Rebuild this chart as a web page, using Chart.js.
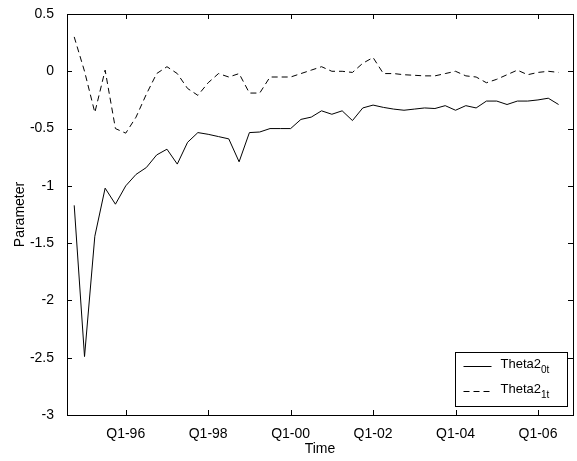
<!DOCTYPE html>
<html>
<head>
<meta charset="utf-8">
<script src="https://cdn.jsdelivr.net/npm/chart.js@4"></script>
<style>
  html, body { margin:0; padding:0; background:#fff; }
  #wrap { width:577px; height:461px; }
</style>
</head>
<body>
<div id="wrap"><canvas id="cv" width="577" height="461"></canvas></div>
<script>
/* Theta2 parameters over time (quarterly) */

const periods = [
  'Q4-94',
  'Q1-95','Q2-95','Q3-95','Q4-95','Q1-96','Q2-96','Q3-96','Q4-96',
  'Q1-97','Q2-97','Q3-97','Q4-97','Q1-98','Q2-98','Q3-98','Q4-98',
  'Q1-99','Q2-99','Q3-99','Q4-99','Q1-00','Q2-00','Q3-00','Q4-00',
  'Q1-01','Q2-01','Q3-01','Q4-01','Q1-02','Q2-02','Q3-02','Q4-02',
  'Q1-03','Q2-03','Q3-03','Q4-03','Q1-04','Q2-04','Q3-04','Q4-04',
  'Q1-05','Q2-05','Q3-05','Q4-05','Q1-06','Q2-06','Q3-06'
];

const theta2_0t = [
  -1.17, -2.49, -1.44, -1.02, -1.16, -1.00, -0.90, -0.84, -0.73, -0.68,
  -0.81, -0.62, -0.535, -0.55, -0.57, -0.59, -0.79, -0.535, -0.53, -0.50,
  -0.50, -0.50, -0.42, -0.40, -0.345, -0.375, -0.345, -0.43, -0.32, -0.295,
  -0.315, -0.33, -0.34, -0.33, -0.32, -0.325, -0.30, -0.34, -0.30, -0.32,
  -0.26, -0.26, -0.29, -0.26, -0.26, -0.25, -0.235, -0.29
];

const theta2_1t = [
  0.30, 0.00, -0.36, 0.01, -0.50, -0.54, -0.40, -0.20, -0.02, 0.04,
  -0.02, -0.15, -0.21, -0.10, -0.02, -0.05, -0.02, -0.19, -0.19, -0.05,
  -0.05, -0.05, -0.02, 0.01, 0.04, 0.00, 0.00, -0.01, 0.07, 0.12,
  -0.02, -0.02, -0.03, -0.035, -0.04, -0.04, -0.02, 0.00, -0.04, -0.05,
  -0.10, -0.07, -0.03, 0.01, -0.03, -0.01, 0.00, -0.01
];

const xTickLabels = ['Q1-96','Q1-98','Q1-00','Q1-02','Q1-04','Q1-06'];
const yTicks      = [0.5, 0, -0.5, -1, -1.5, -2, -2.5, -3];

const FONT = 'Liberation Sans, Arial, Helvetica, sans-serif';
const xTickPos = xTickLabels.map(l => periods.indexOf(l));
const toPts = arr => arr.map((v, i) => ({ x: i, y: v }));

// MATLAB-like box, inward ticks, and legend with subscripts
const matlabFrame = {
  id: 'matlabFrame',
  afterDraw(chart) {
    const { ctx, chartArea: a, scales } = chart;
    const T = 5;
    ctx.save();
    ctx.strokeStyle = '#000';
    ctx.lineWidth = 1;
    ctx.setLineDash([]);
    ctx.strokeRect(Math.round(a.left) + 0.5, Math.round(a.top) + 0.5,
                   Math.round(a.right - a.left), Math.round(a.bottom - a.top));
    ctx.beginPath();
    xTickPos.forEach(v => {
      const px = Math.round(scales.x.getPixelForValue(v)) + 0.5;
      ctx.moveTo(px, a.bottom); ctx.lineTo(px, a.bottom - T);
      ctx.moveTo(px, a.top);    ctx.lineTo(px, a.top + T);
    });
    yTicks.forEach(v => {
      const py = Math.round(scales.y.getPixelForValue(v)) + 0.5;
      ctx.moveTo(a.left, py);  ctx.lineTo(a.left + T, py);
      ctx.moveTo(a.right, py); ctx.lineTo(a.right - T, py);
    });
    ctx.stroke();

    // legend
    const L = { x: 455.5, y: 352.5, w: 112, h: 54 };
    ctx.fillStyle = '#fff';
    ctx.fillRect(L.x, L.y, L.w, L.h);
    ctx.strokeRect(L.x, L.y, L.w, L.h);
    const rows = [
      { sub: '0t', dash: [] },
      { sub: '1t', dash: [6, 4] }
    ];
    rows.forEach((r, i) => {
      const cy = L.y + 14 + i * 25;
      ctx.setLineDash(r.dash);
      ctx.beginPath();
      ctx.moveTo(L.x + 8, cy); ctx.lineTo(L.x + 36, cy);
      ctx.stroke();
      ctx.setLineDash([]);
      ctx.fillStyle = '#000';
      ctx.textBaseline = 'middle';
      ctx.textAlign = 'left';
      ctx.font = '13px ' + FONT;
      const tx = L.x + 45;
      ctx.fillText('Theta2', tx, cy - 2);
      const w = ctx.measureText('Theta2').width;
      ctx.font = '10px ' + FONT;
      ctx.fillText(r.sub, tx + w, cy + 4);
    });
    ctx.restore();
  }
};

new Chart(document.getElementById('cv').getContext('2d'), {
  type: 'line',
  data: {
    datasets: [
      { label: 'Theta2_0t', data: toPts(theta2_0t), borderColor: '#000',
        borderWidth: 1, pointRadius: 0, tension: 0, fill: false },
      { label: 'Theta2_1t', data: toPts(theta2_1t), borderColor: '#000',
        borderWidth: 1, borderDash: [6, 4], pointRadius: 0, tension: 0, fill: false }
    ]
  },
  options: {
    responsive: false,
    animation: false,
    parsing: false,
    layout: { padding: { top: 14, right: 4, left: 0, bottom: 0 } },
    plugins: { legend: { display: false }, tooltip: { enabled: false } },
    scales: {
      x: {
        type: 'linear', min: -0.7, max: 48.4,
        afterBuildTicks: s => { s.ticks = xTickPos.map(v => ({ value: v })); },
        afterFit: s => { s.height = 46; },
        grid: { display: false }, border: { display: false },
        ticks: { padding: 3, color: '#000', font: { family: FONT, size: 14 },
                 maxRotation: 0, autoSkip: false,
                 callback: v => xTickLabels[xTickPos.indexOf(v)] },
        title: { display: true, text: 'Time', color: '#000',
                 font: { family: FONT, size: 14 }, padding: { top: 0, bottom: 3 } }
      },
      y: {
        min: -3, max: 0.5,
        afterBuildTicks: s => { s.ticks = yTicks.map(v => ({ value: v })); },
        afterFit: s => { s.width = 67; },
        grid: { display: false }, border: { display: false },
        ticks: { padding: 5, color: '#000', font: { family: FONT, size: 14 },
                 callback: v => String(v) },
        title: { display: true, text: 'Parameter', color: '#000',
                 font: { family: FONT, size: 14 }, padding: { top: 12, bottom: 0 } }
      }
    }
  },
  plugins: [matlabFrame]
});
</script>
</body>
</html>
